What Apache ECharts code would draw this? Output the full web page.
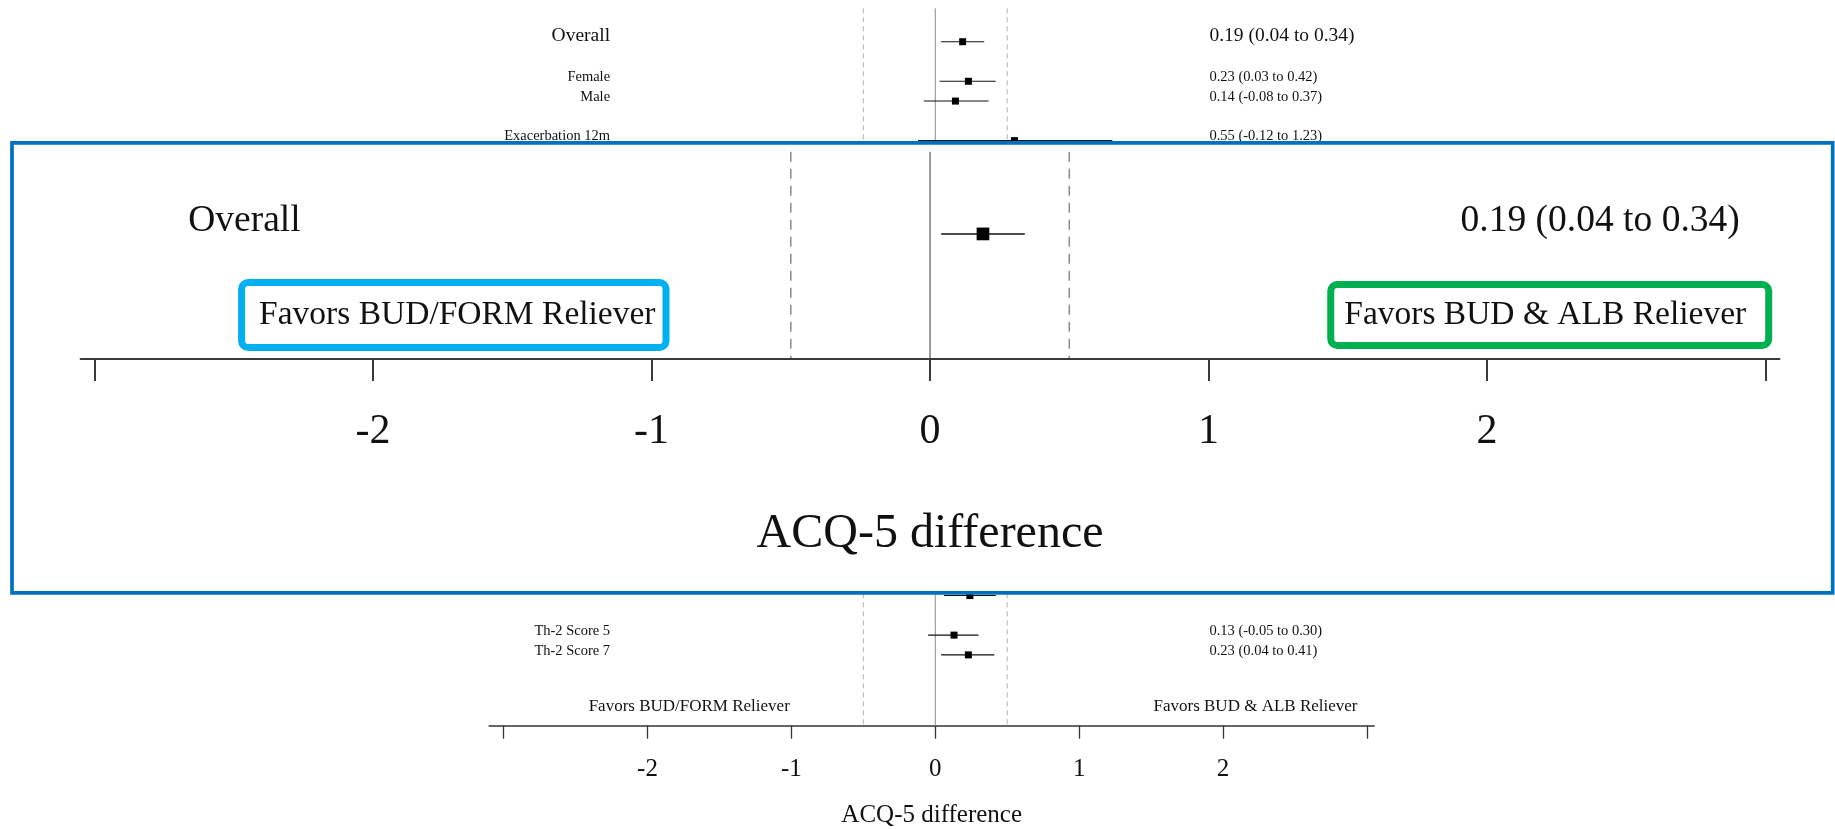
<!DOCTYPE html>
<html>
<head>
<meta charset="utf-8">
<script src="https://cdn.jsdelivr.net/npm/echarts@6/dist/echarts.min.js"></script>
<style>
html,body{margin:0;padding:0;background:#fff;}
#chart{width:1835px;height:829px;}
</style>
</head>
<body>
<div id="chart"></div>
<script>
// ---------------- DATA ----------------
// Rows of the forest plot (rows hidden behind the zoom panel are not readable and are omitted;
// the row with an empty label is only partly visible below the panel)
const rowLabels = ['Overall', 'Female', 'Male', 'Exacerbation 12m', '', 'Th-2 Score 5', 'Th-2 Score 7'];
const rowIndex  = [0, 2, 3, 5, 28, 30, 31];
const estimates = [0.19, 0.23, 0.14, 0.55, 0.24, 0.13, 0.23];
const lowerCI   = [0.04, 0.03, -0.08, -0.12, 0.06, -0.05, 0.04];
const upperCI   = [0.34, 0.42, 0.37, 1.23, 0.42, 0.30, 0.41];

const favorsLabels = ['Favors BUD/FORM Reliever', 'Favors BUD & ALB Reliever'];
const referenceLines = [0, -0.5, 0.5];
const tickValues = [-3, -2, -1, 0, 1, 2, 3];
const tickLabelValues = [-2, -1, 0, 1, 2];
const axisTitle = 'ACQ-5 difference';

// rows shown in the magnified panel
const insetRows = [0];

// ---------------- LAYOUT (not data) ----------------
const FONT = '"Liberation Serif", "Times New Roman", Times, serif';
const labelColumnX = -2.26;   // right edge of the label column (axis units)
const valueColumnX = 1.905;   // left edge of the estimate column (axis units)
const favorsX = [-1.71, 2.225];
const favorsRowMain = 33.62;
const favorsRowInset = 2.12;

function ciText(i) {
  return estimates[i].toFixed(2) + ' (' + lowerCI[i].toFixed(2) + ' to ' + upperCI[i].toFixed(2) + ')';
}

function forestRender(cfg) {
  return function (params, api) {
    const i = api.value(2);
    const r = api.value(1);
    const pE = api.coord([estimates[i], r]);
    const pL = api.coord([lowerCI[i], r]);
    const pH = api.coord([upperCI[i], r]);
    const children = [
      {type: 'line', shape: {x1: pL[0], y1: pL[1], x2: pH[0], y2: pH[1]},
        style: {stroke: '#111', lineWidth: cfg.lw}},
      {type: 'rect', shape: {x: pE[0] - cfg.sq / 2, y: pE[1] - cfg.sq / 2, width: cfg.sq, height: cfg.sq},
        style: {fill: '#000'}}
    ];
    if (rowLabels[i]) {
      const big = i === 0;
      const fs = big ? cfg.bigFont : cfg.smallFont;
      const off = big ? cfg.bigOff : cfg.smallOff;
      const pLab = api.coord([labelColumnX, r]);
      const pVal = api.coord([valueColumnX, r]);
      children.push({type: 'text', x: pLab[0], y: pLab[1] + off,
        style: {text: rowLabels[i], fill: '#111', fontSize: fs, fontFamily: FONT, align: 'right', verticalAlign: 'middle'}});
      children.push({type: 'text', x: pVal[0], y: pVal[1] + off,
        style: {text: ciText(i), fill: '#111', fontSize: fs, fontFamily: FONT, align: 'left', verticalAlign: 'middle'}});
    }
    return {type: 'group', children: children};
  };
}

function refRender(cfg) {
  return function (params, api) {
    const v = api.value(0);
    const cs = params.coordSys;
    const p = api.coord([v, 0]);
    const isZero = v === 0;
    return {
      type: 'line',
      shape: {x1: p[0], y1: cs.y, x2: p[0], y2: cs.y + cs.height},
      style: {
        stroke: isZero ? cfg.zeroColor : cfg.dashColor,
        lineWidth: cfg.lw,
        lineDash: isZero ? null : cfg.dash
      }
    };
  };
}

function favorsRender(cfg) {
  return function (params, api) {
    const k = api.value(2);
    const p = api.coord([api.value(0), api.value(1)]);
    const style = {text: favorsLabels[k], fill: '#111', fontSize: cfg.fs, fontFamily: FONT,
      align: 'center', verticalAlign: 'middle'};
    if (cfg.boxes) {
      const b = cfg.boxes[k];
      style.borderColor = b.color;
      style.borderWidth = b.width;
      style.padding = b.padding;
      style.borderRadius = 3;
      style.backgroundColor = '#fff';
      style.lineHeight = cfg.lh;
    }
    return {type: 'text', x: p[0], y: p[1], style: style};
  };
}

const mainRows = rowLabels.map((l, i) => [estimates[i], rowIndex[i], i]);
const insetData = insetRows.map(i => [estimates[i], 0, i]);
const refData = referenceLines.map(v => [v, 0]);

const chart = echarts.init(document.getElementById('chart'), null, {renderer: 'canvas'});

const option = {
  backgroundColor: '#fff',
  animation: false,
  grid: [
    {left: 489.2, top: 8.3, width: 885, height: 717.4, outerBoundsMode: 'none', containLabel: false},
    {left: 80.6, top: 151.7, width: 1698.9, height: 207.3, outerBoundsMode: 'none', containLabel: false}
  ],
  xAxis: [
    {
      type: 'value', gridIndex: 0, min: -3.1, max: 3.05, position: 'bottom',
      splitLine: {show: false},
      axisLine: {show: true, onZero: false, lineStyle: {color: '#333', width: 1.5}},
      axisTick: {show: true, inside: false, length: 13, customValues: tickValues, lineStyle: {color: '#333', width: 1.3}},
      axisLabel: {show: true, customValues: tickLabelValues, margin: 31, fontSize: 25, fontFamily: FONT, color: '#111',
        formatter: v => String(v)},
      name: axisTitle, nameLocation: 'middle', nameGap: 77,
      nameTextStyle: {fontSize: 25, fontFamily: FONT, color: '#111'}
    },
    {
      type: 'value', gridIndex: 1, min: -3.05, max: 3.05, position: 'bottom', z: 60,
      splitLine: {show: false},
      axisLine: {show: true, onZero: false, lineStyle: {color: '#3a3a3a', width: 2}},
      axisTick: {show: true, inside: false, length: 22, customValues: tickValues, lineStyle: {color: '#3a3a3a', width: 2}},
      axisLabel: {show: true, customValues: tickLabelValues, margin: 52, fontSize: 42, fontFamily: FONT, color: '#111',
        formatter: v => String(v)},
      name: axisTitle, nameLocation: 'middle', nameGap: 151,
      nameTextStyle: {fontSize: 48, fontFamily: FONT, color: '#111'}
    }
  ],
  yAxis: [
    {type: 'value', gridIndex: 0, inverse: true, min: -1.69, max: 34.58, show: false},
    {type: 'value', gridIndex: 1, inverse: true, min: -2.15, max: 3.27, show: false}
  ],
  graphic: [
    {type: 'rect', z: 50, shape: {x: 12, y: 142.8, width: 1820.7, height: 450},
      style: {fill: '#fff', stroke: '#0070C0', lineWidth: 3.7}}
  ],
  series: [
    // ---- main forest plot ----
    {type: 'custom', xAxisIndex: 0, yAxisIndex: 0, z: 2, clip: false,
      renderItem: refRender({zeroColor: '#8c8c8c', dashColor: '#b3b3b3', lw: 1, dash: [5, 4]}), data: refData},
    {type: 'custom', xAxisIndex: 0, yAxisIndex: 0, z: 3, clip: false,
      renderItem: forestRender({lw: 1.1, sq: 7, bigFont: 19.5, smallFont: 14.5, bigOff: -5.7, smallOff: -4}),
      data: mainRows},
    {type: 'custom', xAxisIndex: 0, yAxisIndex: 0, z: 3, clip: false,
      renderItem: favorsRender({fs: 17}),
      data: favorsX.map((x, k) => [x, favorsRowMain, k])},
    // ---- magnified panel ----
    {type: 'custom', xAxisIndex: 1, yAxisIndex: 1, z: 60, clip: false,
      renderItem: refRender({zeroColor: '#7a7a7a', dashColor: '#8a8a8a', lw: 1.5, dash: [10, 7]}), data: refData},
    {type: 'custom', xAxisIndex: 1, yAxisIndex: 1, z: 61, clip: false,
      renderItem: forestRender({lw: 1.5, sq: 12.7, bigFont: 37.5, smallFont: 28, bigOff: -12.3, smallOff: -8}),
      data: insetData},
    {type: 'custom', xAxisIndex: 1, yAxisIndex: 1, z: 61, clip: false,
      renderItem: favorsRender({fs: 33.5, lh: 40, boxes: [
        {color: '#00B0F0', width: 7, padding: [9, 7, 9, 14]},
        {color: '#00B050', width: 7, padding: [7, 19, 7, 10]}
      ]}),
      data: favorsX.map((x, k) => [x, favorsRowInset, k])}
  ]
};
chart.setOption(option);
</script>
</body>
</html>
